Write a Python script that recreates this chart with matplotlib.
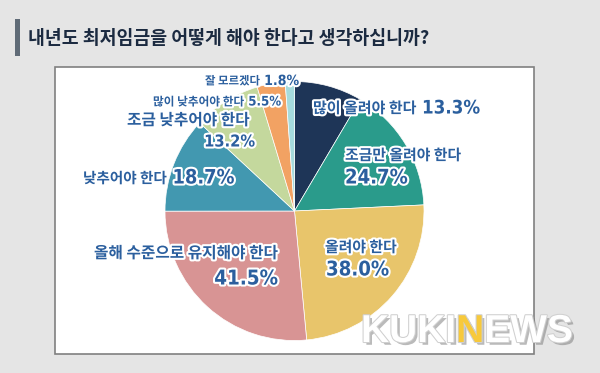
import matplotlib
matplotlib.use('Agg')
import matplotlib.pyplot as plt
from matplotlib.patches import Rectangle
from matplotlib import font_manager
import matplotlib.patheffects as pe

title = '내년도 최저임금을 어떻게 해야 한다고 생각하십니까?'
categories = ['많이 올려야 한다', '조금만 올려야 한다', '올려야 한다', '올해 수준으로 유지해야 한다',
              '낮추어야 한다', '조금 낮추어야 한다', '많이 낮추어야 한다', '잘 모르겠다']
values = [13.3, 24.7, 38.0, 41.5, 18.7, 13.2, 5.5, 1.8]
colors = ['#1e3557', '#2a9b8b', '#e8c56b', '#d89494', '#4298b0', '#c4d89d', '#f2a263', '#a6dbdc']

W, H = 600, 373
fig = plt.figure(figsize=(6, 3.73), dpi=100, facecolor='#e5e5e5')


def fx(x):
    return x / W


def fy(y):
    return 1 - y / H


def _w(f):
    w = f.weight
    if isinstance(w, str):
        return font_manager.weight_dict.get(w, 400)
    return w


# prefer a narrow bold sans for the percentages if one is installed
narrow_prop = None
cands = [f for f in font_manager.fontManager.ttflist
         if ('Narrow' in f.name or 'Condensed' in f.name or 'Narrow' in f.fname
             or 'Condensed' in f.fname) and 'Mono' not in f.name
         and f.style == 'normal' and _w(f) >= 600]
if cands:
    cands.sort(key=lambda f: abs(_w(f) - 700))
    narrow_prop = font_manager.FontProperties(fname=cands[0].fname)

KFONT = ['Noto Sans CJK KR', 'DejaVu Sans']
TXT = '#2b5f9e'
OUT = [pe.withStroke(linewidth=3, foreground='white')]

# panel and title bar
fig.patches.append(Rectangle((fx(55), fy(354)), (534 - 55) / W, (354 - 67) / H,
                             transform=fig.transFigure, facecolor='white',
                             edgecolor='#808080', lw=1.2, zorder=-1))
fig.patches.append(Rectangle((fx(15), fy(56)), 5 / W, 37 / H, transform=fig.transFigure,
                             facecolor='#606b77', edgecolor='none', zorder=-1))
fig.text(fx(28), fy(38), title, fontsize=13.2, fontweight='bold', color='#1b2a40',
         family=KFONT, va='center', ha='left')

# pie
cx, cy, r = 294.5, 211, 129.5
ax = fig.add_axes([fx(cx - r), fy(cy + r), 2 * r / W, 2 * r / H])
ax.pie(values, colors=colors, startangle=90, counterclock=False, radius=1,
       wedgeprops=dict(edgecolor='white', linewidth=0.5))
ax.set_xlim(-1, 1)
ax.set_ylim(-1, 1)
ax.set_aspect('equal')
ax.axis('off')

renderer = fig.canvas.get_renderer()


def ktext(x, y, s, size, ha='left'):
    return fig.text(fx(x), fy(y), s, fontsize=size, fontweight='bold', color=TXT,
                    family=KFONT, va='center', ha=ha, path_effects=OUT)


def ptext(x, y, v, width, ha='left'):
    if narrow_prop is not None:
        prop = narrow_prop.copy()
    else:
        prop = font_manager.FontProperties(family=['Liberation Sans', 'DejaVu Sans'],
                                           weight='bold')
    prop.set_size(10)
    t = fig.text(fx(x), fy(y), f'{v:.1f}%', fontproperties=prop, color=TXT,
                 va='center', ha=ha, path_effects=OUT)
    w = t.get_window_extent(renderer).width
    t.set_fontsize(10 * width / w)
    return t


def inline(i, x, y, ks, pw, gap=6):
    t = ktext(x, y, categories[i], ks)
    x1 = t.get_window_extent(renderer).x1
    ptext(x1 + gap, y, values[i], pw)


inline(0, 313, 108, 10.8, 58)
ktext(345, 155, categories[1], 10.7)
ptext(345, 178, values[1], 63)
ktext(325, 247, categories[2], 10.7)
ptext(326, 270, values[2], 63)
ktext(277, 253, categories[3], 11.3, ha='right')
ptext(278, 279, values[3], 64, ha='right')
inline(4, 83, 178, 10.5, 62)
ktext(249, 120, categories[5], 11.3, ha='right')
ptext(255, 142, values[5], 51, ha='right')
inline(6, 153, 102, 8.4, 33, gap=4)
inline(7, 205, 81, 8.2, 35, gap=4)

# watermark
wm_fx = [pe.withSimplePatchShadow(offset=(2, -2), shadow_rgbFace='#777777', alpha=0.5),
         pe.withStroke(linewidth=1.5, foreground='#d0d0d0')]
x = 361
for part, col in [('KUKI', 'white'), ('N', '#f7c93b'), ('EWS', 'white')]:
    t = fig.text(fx(x), fy(332), part, fontsize=28, fontweight='bold', color=col,
                 family=['Liberation Sans', 'DejaVu Sans'], va='center', ha='left',
                 path_effects=wm_fx)
    x = t.get_window_extent(renderer).x1

fig.savefig('out.png', dpi=100, facecolor=fig.get_facecolor())
